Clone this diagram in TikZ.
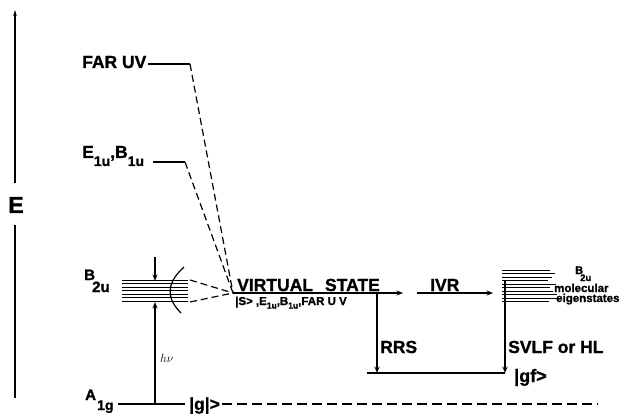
\documentclass[tikz,border=0pt]{standalone}
\usepackage{fontspec}
\setmainfont{Liberation Sans}[BoldFeatures={FakeBold=1.2}]
\usetikzlibrary{arrows.meta}
\newcommand{\dn}[1]{\raisebox{-8pt}{\fontsize{14}{14}\selectfont #1}}
\newcommand{\sdn}[1]{\raisebox{-3.5pt}{\fontsize{8.5}{8.5}\selectfont #1}}
\tikzset{
  lbl/.style={inner sep=0pt, anchor=base west, font=\fontsize{17.5}{17.5}\selectfont\bfseries},
  sml/.style={inner sep=0pt, anchor=base west, font=\fontsize{11.5}{11.5}\selectfont\bfseries},
  tiny/.style={inner sep=0pt, anchor=base west, font=\fontsize{11.5}{11.5}\selectfont\bfseries},
  lev/.style={line width=1.3pt},
  dsh/.style={line width=1.2pt, dash pattern=on 7pt off 4pt},
  gdsh/.style={line width=1.3pt, dash pattern=on 10pt off 5pt},
  arr/.style={line width=1.3pt, -{Stealth[length=6.5pt,width=5pt]}},
}
\begin{document}
\begin{tikzpicture}[x=1pt,y=-1pt]
\useasboundingbox (0,0) rectangle (623,414);
% energy axis
\coordinate (axb) at (15,398);
\coordinate (axm1) at (15,225);
\coordinate (axm2) at (15,183);
\coordinate (axt) at (15,10);
\node[inner sep=0pt, font=\fontsize{23}{23}\selectfont\bfseries] (E) at (16,205) {E};
\draw[line width=1.1pt] (axb) -- (axm1);
\draw[line width=1.1pt, -{Stealth[length=6pt,width=3.5pt]}] (axm2) -- (axt);

% FAR UV
\node[lbl] (far) at (82,68) {FAR UV};
\coordinate (farc) at (190,64);
\draw[lev] (far.base east |- farc) ++(1,0) coordinate (fars) -- (farc);
% E1u B1u
\node[lbl] (e1u) at (82,158) {E\dn{1u},B\dn{1u}};
\coordinate (e1c) at (185,162);
\coordinate (e1s) at (153,162);
\draw[lev] (e1s) -- (e1c);

% virtual state point
\coordinate (vs) at (233,293);
\draw[dsh] (farc) -- (vs);
\draw[dsh] (e1c) -- (vs);

% B2u stack
\node[inner sep=0pt, anchor=base west, font=\fontsize{15}{15}\selectfont\bfseries] (b2u) at (84,280) {B};
\node[inner sep=0pt, anchor=base west, font=\fontsize{15}{15}\selectfont\bfseries] (b2usub) at (92,292) {2u};
\foreach \yy in {280,283.5,287,290.5,294,297.5,301}{
  \draw[line width=1pt] (122,\yy) -- (188,\yy);
}
\coordinate (bst) at (190,280);
\coordinate (bsb) at (190,302);
\draw[dsh] (bst) -- (vs);
\draw[dsh] (bsb) -- (vs);
\draw[line width=1.2pt] (184,267) .. controls (164,285) and (168,300) .. (181,313);

% excitation arrows
\coordinate (hvtop) at (155,257);
\coordinate (hvtopend) at (155,281);
\coordinate (hvbot) at (155,404);
\coordinate (hvbotend) at (155,302);
\draw[arr] (hvtop) -- (hvtopend);
\draw[arr] (hvbot) -- (hvbotend);
\node[inner sep=0pt, anchor=base west, font=\fontsize{12}{12}\selectfont] (hv) at (160,362) {$h\nu$};

% ground level
\node[inner sep=0pt, anchor=base west, font=\fontsize{15}{15}\selectfont\bfseries] (a1g) at (85,400) {A};
\node[inner sep=0pt, anchor=base west, font=\fontsize{14}{14}\selectfont\bfseries] (a1gsub) at (97,410) {1g};
\coordinate (gl) at (118,404);
\coordinate (gr) at (185,404);
\draw[lev] (gl) -- (gr);
\node[lbl] (g) at (189,410) {|g|>};
\coordinate (gde) at (598,404);
\draw[gdsh] (g.base east |- gde) ++(2,0) -- (gde);

% virtual state
\node[lbl] (vst) at (237,291) {VIRTUAL\hspace{12pt}STATE};
\node[sml] (vsub) at (235,305) {|S> ,E\sdn{1u},B\sdn{1u},FAR U V};
\coordinate (vsa) at (403,293);
\draw[arr] (vs) -- (vsa);
\node[lbl] (ivr) at (430,291) {IVR};
\coordinate (ivra) at (417,293);
\coordinate (ivrb) at (493,293);
\draw[arr] (ivra) -- (ivrb);

% right stack
\foreach \yy/\xe in {270/550,273.5/555,277/552,280.5/548,284/556,287.5/550,291/553,294.5/557,298/560,301.5/549}{
  \draw[line width=1pt] (502,\yy) -- (\xe,\yy);
}
\node[inner sep=0pt, anchor=base west, font=\fontsize{11}{11}\selectfont\bfseries] (b2r) at (575,274) {B};
\node[inner sep=0pt, anchor=base west, font=\fontsize{9.5}{9.5}\selectfont\bfseries] (b2rs) at (580,281) {2u};
\node[tiny] (mol) at (554,292) {molecular};
\node[tiny] (eig) at (556,302) {eigenstates};

% emission
\coordinate (rrst) at (377,293);
\coordinate (rrsb) at (377,373);
\coordinate (svt) at (505,280);
\coordinate (svb) at (505,373);
\coordinate (hl) at (367,373);
\draw[arr] (rrst) -- (rrsb);
\draw[arr] (svt) -- (svb);
\draw[lev] (hl) -- (svb);
\node[lbl] (rrs) at (380,353) {RRS};
\node[lbl] (svlf) at (508,353) {SVLF or HL};
\node[inner sep=0pt, anchor=base west, font=\fontsize{18}{18}\selectfont\bfseries] (gf) at (514,382) {|gf>};
\end{tikzpicture}
\end{document}
